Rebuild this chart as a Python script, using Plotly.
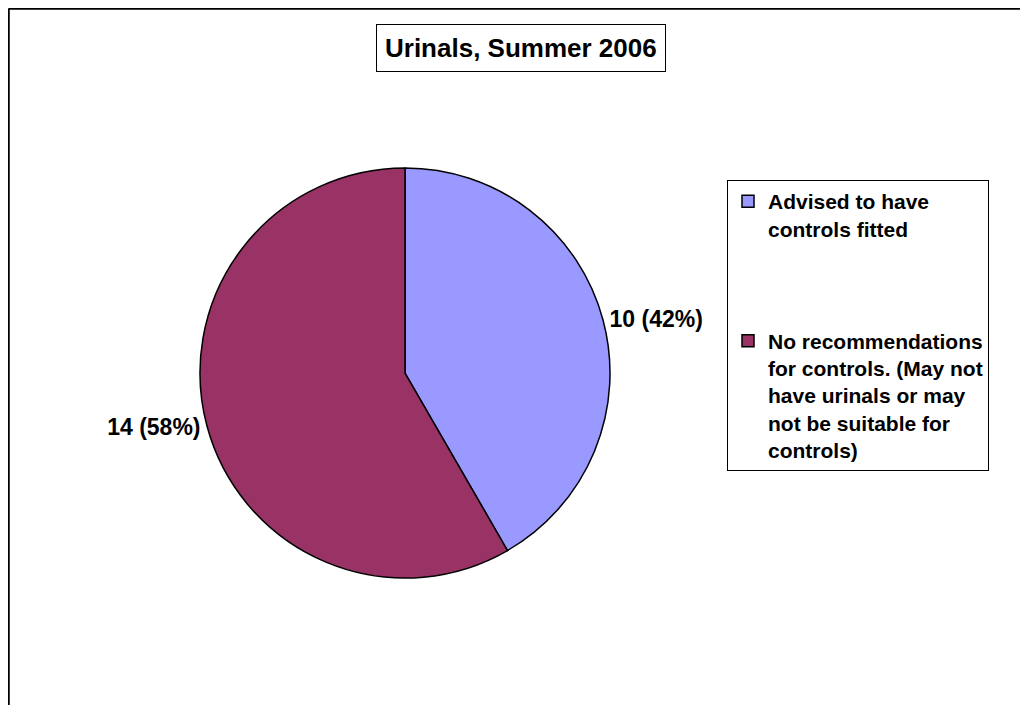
import plotly.graph_objects as go

# data
categories = ["Advised to have<br>controls fitted<br> <br> <br> ",
              "No recommendations<br>for controls. (May not<br>have urinals or may<br>not be suitable for<br>controls)"]
counts = [10, 14]
colors = ["#9999FF", "#993366"]
title_text = "Urinals, Summer 2006"

W, H = 1028, 705
OFF = 8  # page body margin shifts the figure by 8px
FONT = "Liberation Sans, Arial, sans-serif"


def px(x):
    return (x - OFF) / W


def py(y):
    return 1 - (y - OFF) / H


fig = go.Figure()

fig.add_trace(go.Pie(
    labels=categories, values=counts,
    sort=False, direction="clockwise", rotation=0,
    marker=dict(colors=colors, line=dict(color="black", width=1.5)),
    textposition="outside",
    texttemplate="%{value} (%{percent:.0%})",
    textfont=dict(family=FONT, size=23, color="black", weight="bold"),
    domain=dict(x=[px(200), px(610)], y=[py(578), py(168)]),
    hoverinfo="skip",
))

fig.add_annotation(
    text=title_text, xref="paper", yref="paper",
    x=px(521), y=py(48), xanchor="center", yanchor="middle", showarrow=False,
    font=dict(family=FONT, size=26, color="black", weight="bold"),
    bordercolor="black", borderwidth=1, borderpad=8, bgcolor="white",
)

# chart area border (top and left edges visible)
fig.add_shape(type="line", xref="paper", yref="paper",
              x0=0.5 / W, x1=1.01, y0=1 - 0.5 / H, y1=1 - 0.5 / H,
              line=dict(color="black", width=2.5))
fig.add_shape(type="line", xref="paper", yref="paper",
              x0=0.5 / W, x1=0.5 / W, y0=1 - 0.5 / H, y1=-0.01,
              line=dict(color="black", width=2.5))

fig.update_layout(
    width=W, height=H,
    margin=dict(l=0, r=0, t=0, b=0),
    paper_bgcolor="white", plot_bgcolor="white",
    showlegend=True,
    legend=dict(
        x=px(727), y=py(180), xanchor="left", yanchor="top",
        bordercolor="black", borderwidth=1, bgcolor="white",
        font=dict(family=FONT, size=21, color="black", weight="bold"),
        valign="top",
    ),
)

fig.write_html("out.html")
